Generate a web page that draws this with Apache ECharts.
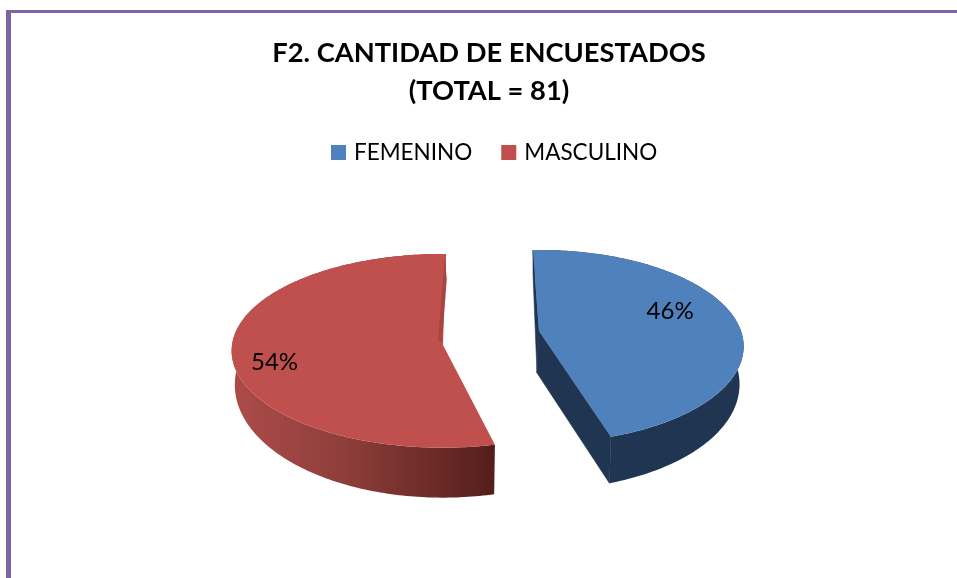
<!DOCTYPE html>
<html>
<head>
<meta charset="utf-8">
<style>html,body{margin:0;padding:0;background:#fff}#c{width:957px;height:578px}</style>
<script src="https://cdn.jsdelivr.net/npm/echarts@6/dist/echarts.min.js"></script>
</head>
<body>
<div id="c"></div>
<script>
const titleText = 'F2. CANTIDAD DE ENCUESTADOS\n(TOTAL = 81)';
const categories = ['FEMENINO', 'MASCULINO'];
const counts = [37, 44];

const FONT = 'Lato, Carlito, "Open Sans", sans-serif';
const total = counts.reduce((a, b) => a + b, 0);

// Projection of each exploded slice (tilted, slightly perspective circle)
const sliceLayouts = [
  { cx: 539, cy: 331, rx: 202, ry: 94, p: 0.16, start: -2, spanScale: 1, lowScale: 0.98, d0: 36, d1: 11, apexDepth: 42,
    top: '#4F81BD', cut: true, labelShift: -8, labelFrac: 0.715,
    wall: () => '#1F3552' },
  { cx: 443, cy: 345, rx: 211, ry: 96.5, p: 0.06, start: 166.6, spanScale: 0.993, lowScale: 0.985, d0: 33, d1: 17, apexDepth: 40,
    top: '#C0504D', cut: false, labelShift: -6.5, labelFrac: 0.808,
    wall: () => new echarts.graphic.LinearGradient(232, 0, 494, 0, [
      { offset: 0, color: '#AD4C49' }, { offset: 0.45, color: '#8C3D3A' }, { offset: 1, color: '#541E1A' }
    ], true) }
];

const rad = d => d * Math.PI / 180;
function rim(s, deg) {
  const u = Math.sin(rad(deg)), v = -Math.cos(rad(deg)), w = 1 - s.p * v;
  return [s.cx + s.rx * u / w, s.cy + s.ry * v / w];
}
function low(s, deg) {
  const q = rim(s, deg), v = -Math.cos(rad(deg));
  return [s.cx + (q[0] - s.cx) * s.lowScale, q[1] + s.d0 + s.d1 * v];
}
function arc(fn, s, a, b) {
  const pts = [], n = Math.ceil(Math.abs(b - a));
  for (let i = 0; i <= n; i++) pts.push(fn(s, a + (b - a) * i / n));
  return pts;
}

function makeRender(idx) {
  return function (params, api) {
    const value = api.value(0);
    const s = sliceLayouts[idx];
    const span = value / total * 360 * s.spanScale;
    const a = s.start, b = a + span;
    const apex = [s.cx, s.cy];
    const lowApex = [s.cx - 2, s.cy + s.apexDepth];
    const children = [];
    const poly = (points, fill, stroked) => children.push({
      type: 'polygon', shape: { points },
      style: stroked ? { fill, stroke: fill, lineWidth: 0.6 } : { fill, stroke: null }
    });

    poly(arc(rim, s, a, b).concat(arc(low, s, b, a)), s.wall());
    if (s.cut) {
      poly([rim(s, a), low(s, a), lowApex, apex], s.wall(), true);
      poly([apex, lowApex, low(s, b), rim(s, b)], s.wall(), true);
    }
    poly([apex].concat(arc(rim, s, a, b)), s.top);
    if (!s.cut) {
      const e = rim(s, b);
      poly([[e[0] - 1, e[1] + 3], [e[0] + 1, e[1] + 25], [apex[0] - 1, apex[1] - 2], [apex[0] - 5, apex[1] - 5]], '#A84442');
    }
    const mid = rim(s, a + span / 2 + s.labelShift);
    children.push({
      type: 'text',
      style: {
        x: s.cx + (mid[0] - s.cx) * s.labelFrac,
        y: s.cy + (mid[1] - s.cy) * s.labelFrac,
        text: Math.round(value / total * 100) + '%',
        fill: '#000', font: '24px ' + FONT, align: 'center', verticalAlign: 'middle'
      }
    });
    return { type: 'group', children };
  };
}

const chart = echarts.init(document.getElementById('c'), null, { renderer: 'canvas' });
chart.setOption({
  animation: false,
  backgroundColor: '#fff',
  color: sliceLayouts.map(s => s.top),
  title: {
    text: titleText, left: 484, top: 29.5, textAlign: 'center',
    textStyle: { fontFamily: FONT, fontSize: 27.3, fontWeight: 'bold', color: '#000', lineHeight: 38 }
  },
  legend: {
    data: categories, left: 326, top: 136, itemWidth: 15, itemHeight: 15, itemGap: 29,
    icon: 'rect', selectedMode: false,
    textStyle: { fontFamily: FONT, fontSize: 22.5, color: '#000', padding: [0, 0, 0, 3] }
  },
  series: categories.map((name, i) => ({
    type: 'custom', name, coordinateSystem: 'none', silent: true, clip: false,
    renderItem: makeRender(i),
    data: [[counts[i]]],
    encode: { value: 0 },
    itemStyle: { color: sliceLayouts[i].top }
  })),
  graphic: [
    { type: 'rect', shape: { x: 6, y: 10, width: 951, height: 3 }, style: { fill: '#8064A2' }, silent: true },
    { type: 'rect', shape: { x: 6, y: 10, width: 5, height: 568 }, style: { fill: '#8064A2' }, silent: true }
  ]
});
</script>
</body>
</html>
